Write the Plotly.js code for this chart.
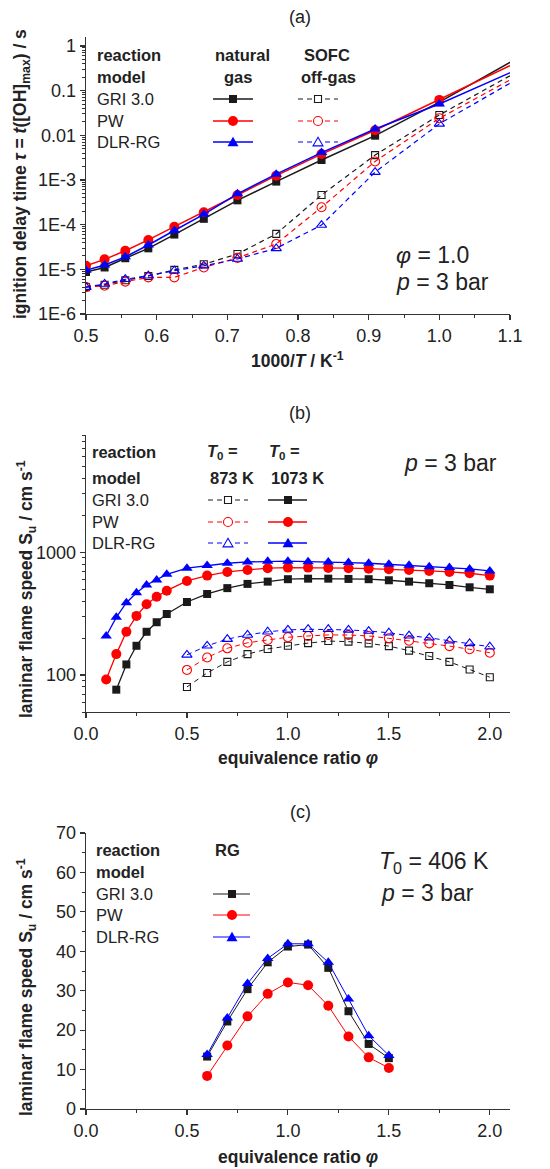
<!DOCTYPE html>
<html><head><meta charset="utf-8">
<script src="https://cdn.plot.ly/plotly-3.0.1.min.js"></script>
<style>html,body{margin:0;padding:0;background:#fff}#chart{width:550px;height:1169px}</style>
</head><body><div id="chart"></div>
<script>
// ---------- Panel (a): ignition delay time ----------
const invT = [0.5, 0.5263, 0.5556, 0.5882, 0.625, 0.6667, 0.7143, 0.7692, 0.8333, 0.9091, 1.0, 1.1111];
const ngGRI   = [8.7e-6, 1.1e-5, 1.77e-5, 2.95e-5, 6.0e-5, 1.35e-4, 3.5e-4, 9.2e-4, 2.8e-3, 9.8e-3, 0.055, 0.54];
const ngPW    = [1.2e-5, 1.67e-5, 2.6e-5, 4.55e-5, 9.0e-5, 1.9e-4, 4.6e-4, 1.25e-3, 3.8e-3, 0.013, 0.062, 0.44];
const ngDLR   = [9.5e-6, 1.25e-5, 1.9e-5, 3.5e-5, 7.4e-5, 1.7e-4, 4.9e-4, 1.35e-3, 4.1e-3, 0.0138, 0.050, 0.30];
const sofcGRI = [4.0e-6, 4.5e-6, 5.7e-6, 7.1e-6, 9.7e-6, 1.3e-5, 2.2e-5, 6.2e-5, 4.6e-4, 3.6e-3, 0.0285, 0.27];
const sofcPW  = [4.0e-6, 4.3e-6, 5.3e-6, 6.6e-6, 6.6e-6, 1.1e-5, 1.8e-5, 3.7e-5, 2.45e-4, 2.6e-3, 0.024, 0.216];
const sofcDLR = [4.0e-6, 4.7e-6, 6.0e-6, 7.2e-6, 9.3e-6, 1.2e-5, 1.7e-5, 2.95e-5, 9.8e-5, 1.5e-3, 0.018, 0.185];
const aTickVals = [1e-6, 1e-5, 1e-4, 1e-3, 0.01, 0.1, 1];
const aTickText = ['1E-6', '1E-5', '1E-4', '1E-3', '0.01', '0.1', '1'];

// ---------- Panel (b): laminar flame speed, natural gas / off-gas ----------
const phiHotDLR = [0.1, 0.15, 0.2, 0.25, 0.3, 0.35, 0.4, 0.5, 0.6, 0.7, 0.8, 0.9, 1.0, 1.1, 1.2, 1.3, 1.4, 1.5, 1.6, 1.7, 1.8, 1.9, 2.0];
const hotDLR = [208, 295, 388, 468, 541, 594, 660, 741, 778, 813, 834, 845, 845, 838, 834, 823, 813, 798, 783, 763, 749, 731, 704];
const phiHotPW = [0.1, 0.15, 0.2, 0.25, 0.3, 0.35, 0.4, 0.5, 0.6, 0.7, 0.8, 0.9, 1.0, 1.1, 1.2, 1.3, 1.4, 1.5, 1.6, 1.7, 1.8, 1.9, 2.0];
const hotPW = [92, 148, 225, 303, 377, 434, 486, 583, 645, 691, 717, 741, 749, 749, 745, 741, 735, 727, 717, 704, 691, 674, 645];
const phiHotGRI = [0.15, 0.2, 0.25, 0.3, 0.35, 0.4, 0.5, 0.6, 0.7, 0.8, 0.9, 1.0, 1.1, 1.2, 1.3, 1.4, 1.5, 1.6, 1.7, 1.8, 1.9, 2.0];
const hotGRI = [76, 122, 173, 225, 269, 314, 393, 457, 510, 552, 576, 603, 609, 609, 606, 603, 591, 576, 559, 541, 518, 499];
const phiCold = [0.5, 0.6, 0.7, 0.8, 0.9, 1.0, 1.1, 1.2, 1.3, 1.4, 1.5, 1.6, 1.7, 1.8, 1.9, 2.0];
const coldDLR = [146, 173, 196, 212, 225, 233, 236, 236, 233, 228, 221, 209, 201, 190, 181, 170];
const coldPW  = [110, 139, 165, 183, 193, 203, 208, 212, 212, 208, 199, 190, 181, 172, 162, 152];
const coldGRI = [80, 104, 128, 148, 163, 173, 182, 189, 187, 181, 172, 158, 143, 128, 111, 96];
const bTickVals = [100, 1000];
const bTickText = ['100', '1000'];

// ---------- Panel (c): laminar flame speed, RG ----------
const phiRG = [0.6, 0.7, 0.8, 0.9, 1.0, 1.1, 1.2, 1.3, 1.4, 1.5];
const rgGRI = [13.3, 22.2, 30.4, 37.2, 41.2, 41.7, 35.8, 24.8, 16.5, 12.9];
const rgPW  = [8.4, 16.1, 23.5, 29.2, 32.1, 31.4, 26.2, 18.4, 13.1, 10.4];
const rgDLR = [13.8, 23.1, 31.8, 38.2, 41.9, 41.9, 37.2, 27.9, 18.6, 13.6];

// ---------- styling ----------
const F = 'Liberation Sans, Arial, Helvetica, sans-serif';
const W = 550, H = 1169;
const BLK = '#1a1a1a', RED = '#ff0000', BLU = '#0000ff';
const px = x => x / W, py = y => 1 - y / H;

function tr(x, y, xa, ya, color, sym, size, dash, lw, open) {
  return {
    type: 'scatter', mode: 'lines+markers', x: x, y: y, xaxis: xa, yaxis: ya,
    line: {color: color, width: lw, dash: dash},
    marker: {symbol: sym, size: size, color: open ? color : color,
             line: {color: color, width: open ? 1.1 : 0}},
    showlegend: false, hoverinfo: 'skip', cliponaxis: true
  };
}
const DASH = '5px,4px';
const traces = [
  // (a)
  tr(invT, sofcGRI, 'x', 'y', BLK, 'square-open', 7, DASH, 1.2, true),
  tr(invT, sofcPW,  'x', 'y', RED, 'circle-open', 9, DASH, 1.2, true),
  tr(invT, sofcDLR, 'x', 'y', BLU, 'triangle-up-open', 9, DASH, 1.2, true),
  tr(invT, ngGRI, 'x', 'y', BLK, 'square', 8, 'solid', 1.5, false),
  tr(invT, ngPW,  'x', 'y', RED, 'circle', 10, 'solid', 1.5, false),
  tr(invT, ngDLR, 'x', 'y', BLU, 'triangle-up', 10, 'solid', 1.5, false),
  // (b)
  tr(phiCold, coldGRI, 'x2', 'y2', BLK, 'square-open', 7, DASH, 1, true),
  tr(phiCold, coldPW,  'x2', 'y2', RED, 'circle-open', 9, DASH, 1, true),
  tr(phiCold, coldDLR, 'x2', 'y2', BLU, 'triangle-up-open', 9, DASH, 1, true),
  tr(phiHotGRI, hotGRI, 'x2', 'y2', BLK, 'square', 8, 'solid', 1.3, false),
  tr(phiHotPW,  hotPW,  'x2', 'y2', RED, 'circle', 10, 'solid', 1.3, false),
  tr(phiHotDLR, hotDLR, 'x2', 'y2', BLU, 'triangle-up', 10, 'solid', 1.3, false),
  // (c)
  tr(phiRG, rgPW,  'x3', 'y3', RED, 'circle', 10, 'solid', 1, false),
  tr(phiRG, rgGRI, 'x3', 'y3', BLK, 'square', 8, 'solid', 1, false),
  tr(phiRG, rgDLR, 'x3', 'y3', BLU, 'triangle-up', 10, 'solid', 1, false)
];

const XD = [86 / W, 510 / W];
const dA = [py(314), py(37)], dB = [py(712), py(435)], dC = [py(1109), py(833)];
const tickFont = {family: F, size: 18, color: '#222'};
function ax(extra) {
  return Object.assign({
    showline: true, linecolor: '#333', linewidth: 1.3, showgrid: false, zeroline: false,
    ticks: 'outside', ticklen: 5, tickwidth: 1.2, tickcolor: '#333', tickfont: tickFont,
    fixedrange: true, automargin: false
  }, extra);
}
function minor(dir, dt, t0) {
  const m = {ticks: dir, ticklen: 3, tickwidth: 1, tickcolor: '#333', showgrid: false, dtick: dt};
  if (t0 !== undefined) m.tick0 = t0;
  return m;
}
function overX(base, range, dt, mdt) {
  return ax({overlaying: base, anchor: base.replace('x', 'y'), side: 'top', range: range, dtick: dt, tick0: 0,
             ticks: 'inside', showticklabels: false, minor: minor('inside', mdt, 0)});
}
function overY(base, type, range, vals, mdt) {
  const o = ax({overlaying: base, anchor: base.replace('y', 'x'), side: 'right', type: type, range: range,
                ticks: 'inside', showticklabels: false, minor: minor('inside', mdt)});
  if (vals) { o.tickmode = 'array'; o.tickvals = vals; } else { o.dtick = 10; o.tick0 = 0; }
  return o;
}

const layout = {
  width: W, height: H, margin: {l: 0, r: 0, t: 0, b: 0},
  paper_bgcolor: '#fff', plot_bgcolor: '#fff', showlegend: false,
  font: {family: F, color: '#222'},
  xaxis: ax({domain: XD, anchor: 'y', range: [0.5, 1.1], dtick: 0.1, tick0: 0.5, tickformat: '.1f',
             minor: minor('outside', 0.05, 0.5)}),
  yaxis: ax({domain: dA, anchor: 'x', type: 'log', range: [-6, 0.2], tickmode: 'array',
             tickvals: aTickVals, ticktext: aTickText, minor: minor('outside', 'D1')}),
  xaxis2: ax({domain: XD, anchor: 'y2', range: [0, 2.1], dtick: 0.5, tick0: 0, tickformat: '.1f',
              minor: minor('outside', 0.25, 0)}),
  yaxis2: ax({domain: dB, anchor: 'x2', type: 'log', range: [Math.log10(50), Math.log10(9000)], tickmode: 'array',
              tickvals: bTickVals, ticktext: bTickText, minor: minor('outside', 'D1')}),
  xaxis3: ax({domain: XD, anchor: 'y3', range: [0, 2.1], dtick: 0.5, tick0: 0, tickformat: '.1f',
              minor: minor('outside', 0.25, 0)}),
  yaxis3: ax({domain: dC, anchor: 'x3', range: [0, 70], dtick: 10, tick0: 0,
              minor: minor('outside', 5, 0)}),
  xaxis4: overX('x', [0.5, 1.1], 0.1, 0.05),
  yaxis4: overY('y', 'log', [-6, 0.2], aTickVals, 'D1'),
  xaxis5: overX('x2', [0, 2.1], 0.5, 0.25),
  yaxis5: overY('y2', 'log', [Math.log10(50), Math.log10(9000)], bTickVals, 'D1'),
  xaxis6: overX('x3', [0, 2.1], 0.5, 0.25),
  yaxis6: overY('y3', 'linear', [0, 70], null, 5),
  annotations: [], shapes: []
};
// fix overlay anchors/tick0 for panel (a)
layout.xaxis4.tick0 = 0.5; layout.xaxis4.minor.tick0 = 0.5;
layout.yaxis6.dtick = 10;

const A = layout.annotations, S = layout.shapes;
function txt(text, x, y, size, opts) {
  A.push(Object.assign({text: text, xref: 'paper', yref: 'paper', x: px(x), y: py(y), showarrow: false,
    xanchor: 'center', yanchor: 'middle', font: {family: F, size: size, color: '#222'}}, opts || {}));
}
function keyLine(x0, x1, y, color, dash, w) {
  S.push({type: 'line', xref: 'paper', yref: 'paper', x0: px(x0), x1: px(x1), y0: py(y), y1: py(y),
          line: {color: color, width: w, dash: dash === 'solid' ? 'solid' : dash}});
}
function keyMark(sym, cx, cy, size, color, open) {
  const h = size / 2, fill = open ? '#fff' : color;
  const base = {xref: 'paper', yref: 'paper', fillcolor: fill, line: {color: color, width: open ? 1.1 : 0}};
  if (sym === 'square') S.push(Object.assign({type: 'rect', x0: px(cx - h), x1: px(cx + h), y0: py(cy + h), y1: py(cy - h)}, base));
  else if (sym === 'circle') S.push(Object.assign({type: 'circle', x0: px(cx - h), x1: px(cx + h), y0: py(cy + h), y1: py(cy - h)}, base));
  else {
    const p = 'M' + px(cx) + ',' + py(cy - h * 1.05) + ' L' + px(cx + h * 1.1) + ',' + py(cy + h * 0.85) +
              ' L' + px(cx - h * 1.1) + ',' + py(cy + h * 0.85) + ' Z';
    S.push(Object.assign({type: 'path', path: p}, base));
  }
}
const models = ['GRI 3.0', 'PW', 'DLR-RG'];
const cols = [BLK, RED, BLU], syms = ['square', 'circle', 'triangle'];
const fSize = [8, 10, 10], oSize = [7, 9, 9];

// ----- panel (a) texts -----
txt('(a)', 300, 17, 18);
txt('<b>reaction</b>', 95, 55, 16.5, {xanchor: 'left'});
txt('<b>model</b>', 95, 77, 16.5, {xanchor: 'left'});
txt('<b>natural</b>', 242, 55, 16.5);
txt('<b>gas</b>', 238, 77, 16.5);
txt('<b>SOFC</b>', 327, 55, 16.5);
txt('<b>off-gas</b>', 328, 77, 16.5);
[99, 121, 142].forEach((yy, i) => {
  txt(models[i], 95, yy, 16.5, {xanchor: 'left'});
  keyLine(213, 253, yy, cols[i], 'solid', 1.5); keyMark(syms[i], 233, yy, fSize[i], cols[i], false);
  keyLine(298, 338, yy, cols[i], DASH, 1.2); keyMark(syms[i], 318, yy, oSize[i], cols[i], true);
});
txt('<i>φ</i> = 1.0', 432, 255, 23);
txt('<i>p</i> = 3 bar', 442, 282, 23);
txt('<b>1000/<i>T</i> / K<sup>-1</sup></b>', 297, 360, 17.5);
txt('<b>ignition delay time <i>τ</i> = <i>t</i>([OH]<sub>max</sub>) / s</b>', 22, 174, 17.5, {textangle: -90});

// ----- panel (b) texts -----
txt('(b)', 300, 413, 18);
txt('<b>reaction</b>', 90, 452, 16.5, {xanchor: 'left'});
txt('<b>model</b>', 90, 478, 16.5, {xanchor: 'left'});
txt('<b><i>T</i><sub>0</sub> =</b>', 222, 452, 16.5);
txt('<b>873 K</b>', 232, 478, 16.5);
txt('<b><i>T</i><sub>0</sub> =</b>', 284, 452, 16.5);
txt('<b>1073 K</b>', 297, 478, 16.5);
[500, 522, 543].forEach((yy, i) => {
  txt(models[i], 90, yy, 16.5, {xanchor: 'left'});
  keyLine(208, 248, yy, cols[i], DASH, 1); keyMark(syms[i], 228, yy, oSize[i], cols[i], true);
  keyLine(268, 307, yy, cols[i], 'solid', 1.3); keyMark(syms[i], 288, yy, fSize[i], cols[i], false);
});
txt('<i>p</i> = 3 bar', 450, 463, 23);
txt('<b>equivalence ratio <i>φ</i></b>', 298, 758, 17.5);
txt('<b>laminar flame speed S<sub>u</sub> / cm s<sup>-1</sup></b>', 26, 589, 17.5, {textangle: -90});

// ----- panel (c) texts -----
txt('(c)', 300, 812, 18);
txt('<b>reaction</b>', 94, 850, 16.5, {xanchor: 'left'});
txt('<b>model</b>', 94, 872, 16.5, {xanchor: 'left'});
txt('<b>RG</b>', 213, 850, 16.5, {xanchor: 'left'});
[894, 915, 937].forEach((yy, i) => {
  txt(models[i], 94, yy, 16.5, {xanchor: 'left'});
  keyLine(213, 250, yy, cols[i], 'solid', 1); keyMark(syms[i], 232, yy, fSize[i], cols[i], false);
});
txt('<i>T</i><sub>0</sub> = 406 K', 434, 862, 23);
txt('<i>p</i> = 3 bar', 427, 893, 23);
txt('<b>equivalence ratio <i>φ</i></b>', 298, 1157, 17.5);
txt('<b>laminar flame speed S<sub>u</sub> / cm s<sup>-1</sup></b>', 26, 987, 17.5, {textangle: -90});

Plotly.newPlot('chart', traces, layout, {staticPlot: true, displayModeBar: false});
</script></body></html>
